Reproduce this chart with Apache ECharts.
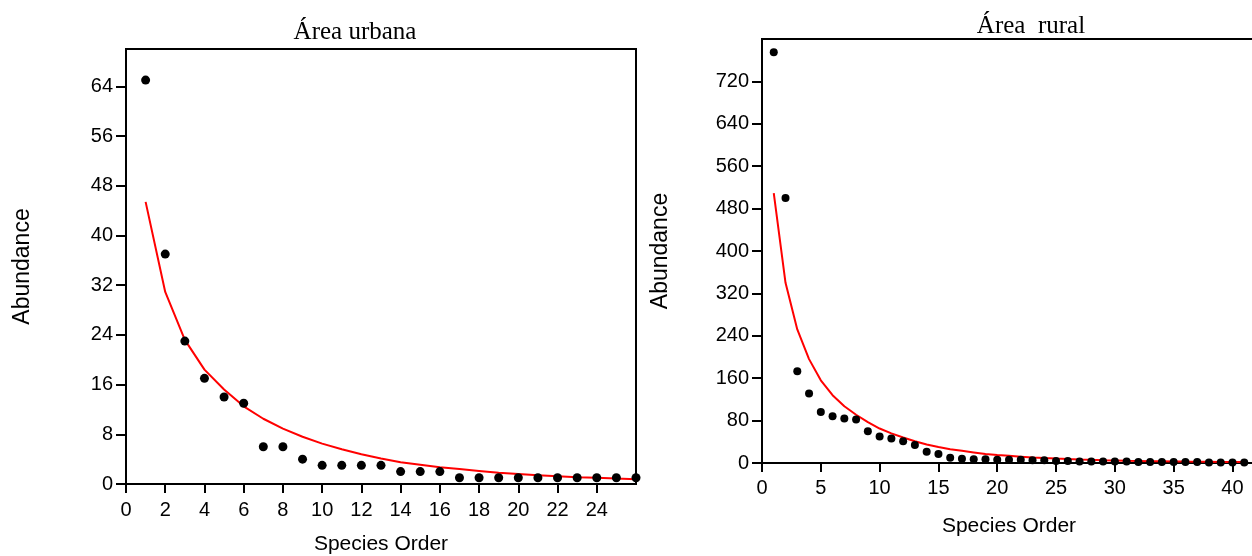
<!DOCTYPE html>
<html>
<head>
<meta charset="utf-8">
<script src="https://cdn.jsdelivr.net/npm/echarts@6/dist/echarts.min.js"></script>
<style>
html,body{margin:0;padding:0;background:#fff;}
#chart{width:1252px;height:556px;}
</style>
</head>
<body>
<div id="chart"></div>
<script>
// ---- Urban area ----
var urbanRank = [1,2,3,4,5,6,7,8,9,10,11,12,13,14,15,16,17,18,19,20,21,22,23,24,25,26];
var urbanAbundance = [65,37,23,17,14,13,6,6,4,3,3,3,3,2,2,2,1,1,1,1,1,1,1,1,1,1];
var urbanFit = [45.4,30.9,23.2,18.4,15.2,12.5,10.5,8.9,7.6,6.5,5.6,4.8,4.1,3.5,3.1,2.7,2.4,2.1,1.8,1.6,1.4,1.25,1.1,1.0,0.88,0.78];
var urbanXTicks = [0,2,4,6,8,10,12,14,16,18,20,22,24];
var urbanYTicks = [0,8,16,24,32,40,48,56,64];

// ---- Rural area ----
var ruralRank = [1,2,3,4,5,6,7,8,9,10,11,12,13,14,15,16,17,18,19,20,21,22,23,24,25,26,27,28,29,30,31,32,33,34,35,36,37,38,39,40,41];
var ruralAbundance = [775,500,173,131,96,88,84,82,60,50,46,41,34,21,17,10,8,7,7,6,6,6,5,5,4,4,3,3,3,3,3,2,2,2,2,2,2,1,1,1,1];
var ruralFit = [509,340,252,196,156,128,107,91,77,65,56,48,41,35,30,26,23,20,17,15,13.5,12,10.5,9.3,8.3,7.4,6.6,5.9,5.3,4.8,4.3,3.9,3.5,3.2,2.9,2.6,2.4,2.2,2.0,1.8,1.7];
var ruralXTicks = [0,5,10,15,20,25,30,35,40];
var ruralYTicks = [0,80,160,240,320,400,480,560,640,720];

var titles = ['Área urbana', 'Área  rural'];
var xName = 'Species Order';
var yName = 'Abundance';

function pairs(xs, ys){ return xs.map(function(x,i){ return [x, ys[i]]; }); }

var sans = 'Liberation Sans, Arial, sans-serif';
var serif = 'Liberation Serif, Times New Roman, serif';
var labelStyle = {color:'#000', fontFamily:sans, fontSize:20};
var xNameStyle = {color:'#000', fontFamily:sans, fontSize:21};
var yNameStyle = {color:'#000', fontFamily:sans, fontSize:23};
var axisLine = {show:true, lineStyle:{color:'#000', width:2}};

function xAxisCfg(idx, max, ticks, margin, gap){
  return {
    type:'value', gridIndex:idx, min:0, max:max,
    name:xName, nameLocation:'middle', nameGap:gap, nameTextStyle:xNameStyle,
    axisLine:axisLine,
    axisTick:{show:true, inside:false, length:9, lineStyle:{color:'#000', width:2}, customValues:ticks},
    axisLabel:Object.assign({margin:margin, customValues:ticks}, labelStyle),
    splitLine:{show:false}
  };
}
function yAxisCfg(idx, max, ticks, gap){
  return {
    type:'value', gridIndex:idx, min:0, max:max,
    name:yName, nameLocation:'middle', nameGap:gap, nameTextStyle:yNameStyle,
    axisLine:axisLine,
    axisTick:{show:true, inside:false, length:10, lineStyle:{color:'#000', width:2}, customValues:ticks},
    axisLabel:Object.assign({margin:13, customValues:ticks}, labelStyle),
    splitLine:{show:false}
  };
}

var chart = echarts.init(document.getElementById('chart'), null, {renderer:'canvas'});
chart.setOption({
  animation:false,
  backgroundColor:'#fff',
  title:[
    {text:titles[0], left:350, top:15, textAlign:'center', textStyle:{color:'#000', fontFamily:serif, fontSize:25, fontWeight:'normal'}},
    {text:titles[1], left:1026, top:9, textAlign:'center', textStyle:{color:'#000', fontFamily:serif, fontSize:25, fontWeight:'normal'}}
  ],
  grid:[
    {left:126, top:49, width:510, height:435, show:true, borderColor:'#000', borderWidth:2, backgroundColor:'transparent', outerBoundsMode:'none', containLabel:false},
    {left:762, top:39, width:494, height:424, show:true, borderColor:'#000', borderWidth:2, backgroundColor:'transparent', outerBoundsMode:'none', containLabel:false}
  ],
  xAxis:[ xAxisCfg(0, 26, urbanXTicks, 16, 50), xAxisCfg(1, 42, ruralXTicks, 15, 53) ],
  yAxis:[ yAxisCfg(0, 70, urbanYTicks, 92), yAxisCfg(1, 800, ruralYTicks, 90) ],
  series:[
    {type:'line', xAxisIndex:0, yAxisIndex:0, data:pairs(urbanRank, urbanFit), showSymbol:false, symbol:'none', lineStyle:{color:'#ff0000', width:2}, z:2},
    {type:'scatter', xAxisIndex:0, yAxisIndex:0, data:pairs(urbanRank, urbanAbundance), symbol:'circle', symbolSize:9, itemStyle:{color:'#000', opacity:1}, z:3},
    {type:'line', xAxisIndex:1, yAxisIndex:1, data:pairs(ruralRank, ruralFit), showSymbol:false, symbol:'none', lineStyle:{color:'#ff0000', width:2}, z:2},
    {type:'scatter', xAxisIndex:1, yAxisIndex:1, data:pairs(ruralRank, ruralAbundance), symbol:'circle', symbolSize:8, itemStyle:{color:'#000', opacity:1}, z:3}
  ]
});
</script>
</body>
</html>
